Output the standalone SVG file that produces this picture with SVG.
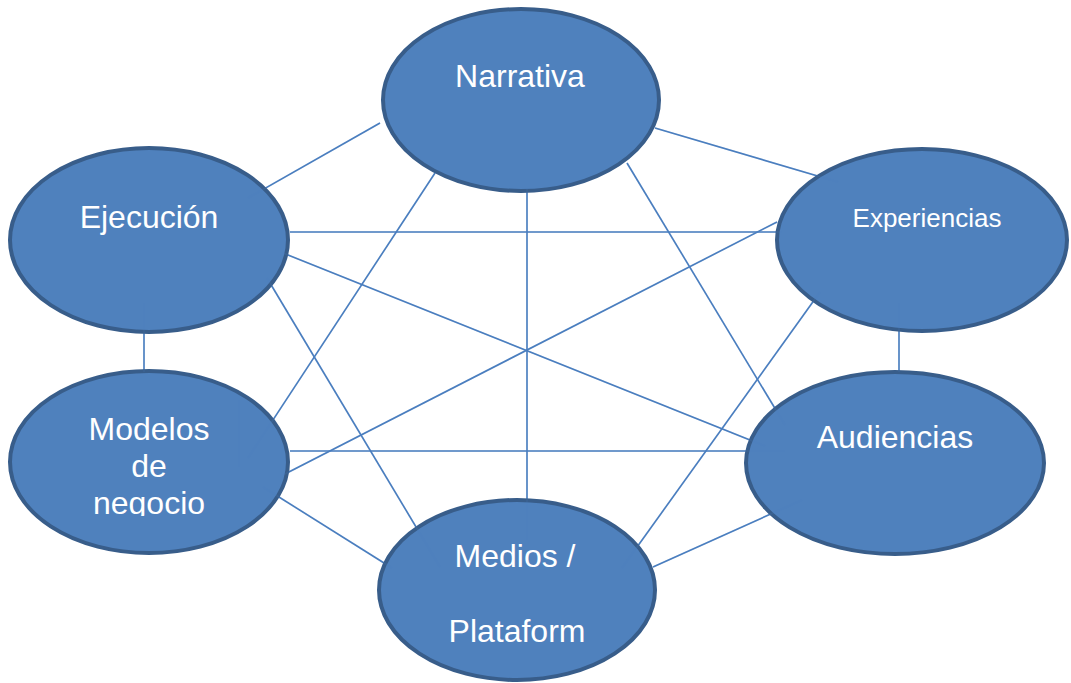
<svg xmlns="http://www.w3.org/2000/svg" xmlns:xlink="http://www.w3.org/1999/xlink" width="1071" height="683" viewBox="0 0 1071 683">
<style>
.n{fill:#4F81BD;stroke:#385D8A;stroke-width:4}
.c line{stroke:#4A7EBF;stroke-width:1.6}
.t{font-family:"Liberation Sans",Arial,sans-serif;font-size:32px;fill:#FFFFFF;text-anchor:middle}
</style>
<defs>
<clipPath id="clipNeg"><rect x="0" y="360" width="300" height="156"/></clipPath>
</defs>
<rect width="1071" height="683" fill="#FFFFFF"/>
<g id="connectors" class="c">
<line x1="380" y1="123" x2="248" y2="198"/>
<line x1="655" y1="128" x2="838" y2="182"/>
<line x1="290" y1="232" x2="782" y2="232"/>
<line x1="283" y1="253" x2="765" y2="446"/>
<line x1="267" y1="278" x2="440" y2="567"/>
<line x1="144" y1="303" x2="144" y2="372"/>
<line x1="435" y1="173" x2="248" y2="458"/>
<line x1="527" y1="188" x2="527" y2="540"/>
<line x1="627" y1="163" x2="785" y2="425"/>
<line x1="777" y1="222" x2="283" y2="475"/>
<line x1="820" y1="292" x2="622" y2="568"/>
<line x1="899" y1="303" x2="899" y2="372"/>
<line x1="290" y1="451" x2="785" y2="451"/>
<line x1="263" y1="487" x2="392" y2="568"/>
<line x1="653" y1="567" x2="802" y2="500"/>
<line x1="239" y1="400" x2="239" y2="467"/>
</g>
<g id="narrativa"><ellipse class="n" cx="521" cy="100" rx="138" ry="91"/><text class="t" x="520" y="87">Narrativa</text></g>
<g id="ejecucion"><ellipse class="n" cx="149" cy="240" rx="139" ry="92"/><text class="t" x="149" y="228">Ejecución</text></g>
<g id="experiencias"><ellipse class="n" cx="922" cy="240" rx="145" ry="91"/><text class="t" x="927" y="227" style="font-size:26px">Experiencias</text></g>
<g id="modelos"><ellipse class="n" cx="149" cy="462" rx="139" ry="91"/><text class="t" x="149" y="440">Modelos</text><text class="t" x="149" y="477">de</text><text class="t" x="149" y="514" clip-path="url(#clipNeg)">negocio</text></g>
<g id="audiencias"><ellipse class="n" cx="895" cy="463" rx="149" ry="91"/><text class="t" x="895" y="448">Audiencias</text></g>
<g id="medios"><ellipse class="n" cx="517" cy="590" rx="138" ry="90"/><text class="t" x="515" y="567">Medios /</text><text class="t" x="517" y="642">Plataform</text></g>
<use xlink:href="#connectors" href="#connectors" opacity="0.18"/>
</svg>
